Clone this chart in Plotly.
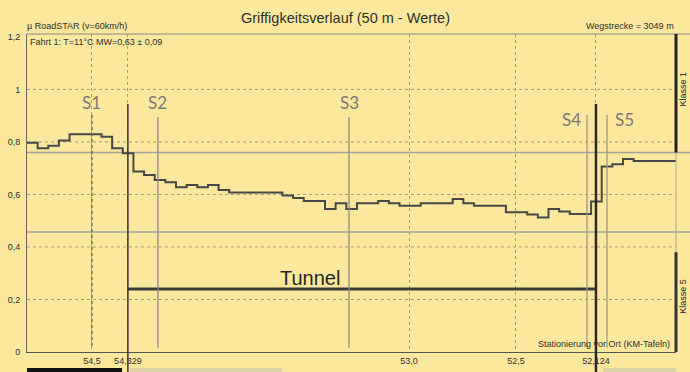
import plotly.graph_objects as go

# ---------------- data ----------------
segment_length_m = 50
route_length_m = 3049

mu_values = [
    0.797, 0.776, 0.785, 0.805, 0.829, 0.829, 0.829, 0.820, 0.776, 0.757,
    0.687, 0.674, 0.655, 0.646, 0.627, 0.636, 0.627, 0.636, 0.617, 0.607,
    0.607, 0.607, 0.607, 0.607, 0.596, 0.586, 0.575, 0.575, 0.545, 0.566,
    0.545, 0.566, 0.566, 0.575, 0.566, 0.557, 0.557, 0.566, 0.566, 0.566,
    0.583, 0.566, 0.557, 0.557, 0.557, 0.532, 0.532, 0.524, 0.512, 0.545,
    0.535, 0.526, 0.526, 0.573, 0.706, 0.715, 0.735, 0.727, 0.727, 0.727,
    0.727,
]

km_labels = ["54,5", "54,329", "53,0", "52,5", "52,124"]
km_dist_m = [305, 474, 1795, 2297, 2673]

section_labels = ["S1", "S2", "S3", "S4", "S5"]
section_dist_m = [305, 615, 1513, 2631, 2725]

tunnel_start_m = 474
tunnel_end_m = 2673
tunnel_level = 0.24

y_tick_vals = [0, 0.2, 0.4, 0.6, 0.8, 1.0, 1.2]
y_tick_labels = ["0", "0,2", "0,4", "0,6", "0,8", "1", "1,2"]
grid_levels = [0.2, 0.4, 0.6, 0.8, 1.0]
class_limits = [0.76, 0.457]
class1_floor = 0.76
class5_top = 0.38

# ---------------- figure ----------------
BG = "#FCE89C"
xs = [i * segment_length_m for i in range(len(mu_values))] + [route_length_m]
ys = mu_values + [mu_values[-1]]

fig = go.Figure()
fig.add_trace(go.Scatter(
    x=xs, y=ys, mode="lines", line=dict(shape="hv", color="#474747", width=2),
    hoverinfo="skip", showlegend=False,
))

shapes = []
for g in grid_levels:
    shapes.append(dict(type="line", xref="paper", yref="y", x0=0, x1=1, y0=g, y1=g,
                       line=dict(color="#a39c7e", width=1, dash="dot"), layer="below"))
for c in class_limits:
    shapes.append(dict(type="line", xref="paper", yref="y", x0=0, x1=1.022, y0=c, y1=c,
                       line=dict(color="#a3a09a", width=1.5), layer="below"))
shapes.append(dict(type="line", xref="paper", yref="paper", x0=0, x1=1.022, y0=1, y1=1,
                   line=dict(color="#8a877c", width=1)))
shapes.append(dict(type="line", xref="paper", yref="paper", x0=1, x1=1, y0=0, y1=1,
                   line=dict(color="#b0ab98", width=1)))
shapes.append(dict(type="line", xref="paper", yref="y", x0=1, x1=1, y0=class1_floor, y1=1.211,
                   line=dict(color="#222222", width=3)))
shapes.append(dict(type="line", xref="paper", yref="y", x0=1, x1=1, y0=0, y1=class5_top,
                   line=dict(color="#333333", width=3)))
shapes.append(dict(type="line", xref="x", yref="y", x0=tunnel_start_m, x1=tunnel_end_m,
                   y0=tunnel_level, y1=tunnel_level, line=dict(color="#3a3a3a", width=3)))
shapes.append(dict(type="line", xref="paper", yref="paper",
                   x0=tunnel_start_m / route_length_m, x1=tunnel_start_m / route_length_m,
                   y0=0.78, y1=-0.065, line=dict(color="#333333", width=1.5)))
shapes.append(dict(type="line", xref="paper", yref="paper",
                   x0=tunnel_end_m / route_length_m, x1=tunnel_end_m / route_length_m,
                   y0=0.78, y1=-0.065, line=dict(color="#2a2a2a", width=2.5)))
for i, d in enumerate(section_dist_m):
    top = 0.745 if i in (0, 3, 4) else 0.739
    dash = "dot" if i == 0 else "solid"
    col = "#6f6c62" if i == 0 else ("#8d8a80" if i < 3 else "#9c998c")
    shapes.append(dict(type="line", xref="paper", yref="paper",
                       x0=d / route_length_m, x1=d / route_length_m, y0=top, y1=0.013,
                       line=dict(color=col, width=1.5 if i == 0 else 1.3, dash=dash)))
for x0, x1, col in [(0, 0.1464, "#111111"), (0.1587, 0.3929, "#ddd2a6"), (0.8875, 1.0, "#ddd2a6")]:
    shapes.append(dict(type="rect", xref="paper", yref="paper", x0=x0, x1=x1, y0=-0.0505, y1=-0.07,
                       line=dict(width=0), fillcolor=col))

annotations = []
TXT = "#2e2e2e"
annotations.append(dict(xref="paper", yref="paper", x=0.49, y=1.05, text="Griffigkeitsverlauf (50 m - Werte)",
                        showarrow=False, xanchor="center", yanchor="middle",
                        font=dict(family="Liberation Sans", size=14.5, color=TXT)))
annotations.append(dict(xref="paper", yref="paper", x=0, y=1.025, text="µ RoadSTAR (v=60km/h)",
                        showarrow=False, xanchor="left", yanchor="middle", xshift=-2,
                        font=dict(family="Liberation Sans", size=9, color=TXT)))
annotations.append(dict(xref="paper", yref="paper", x=1, y=1.025, text="Wegstrecke = 3049 m",
                        showarrow=False, xanchor="right", yanchor="middle",
                        font=dict(family="Liberation Sans", size=9, color=TXT)))
annotations.append(dict(xref="paper", yref="paper", x=0.002, y=0.975, text="Fahrt 1: T=11°C MW=0,63 ± 0,09",
                        showarrow=False, xanchor="left", yanchor="middle",
                        font=dict(family="Liberation Sans", size=9, color=TXT)))
annotations.append(dict(xref="paper", yref="paper", x=0.994, y=0.026, text="Stationierung vor Ort (KM-Tafeln)",
                        showarrow=False, xanchor="right", yanchor="middle",
                        font=dict(family="Liberation Sans", size=9, color=TXT)))
annotations.append(dict(xref="x", yref="y", x=1330, y=0.282, text="Tunnel", showarrow=False,
                        xanchor="center", yanchor="middle",
                        font=dict(family="Liberation Sans", size=20, color="#262626")))
for i, (lab, d) in enumerate(zip(section_labels, section_dist_m)):
    yv = 0.952 if i < 3 else 0.884
    xs_shift = 0 if i < 3 else (-16 if i == 3 else 17)
    annotations.append(dict(xref="x", yref="y", x=d, y=yv, text=lab, showarrow=False,
                            xanchor="center", yanchor="middle", xshift=xs_shift,
                            font=dict(family="Lato", size=17, color="#7a7770")))
annotations.append(dict(xref="paper", yref="y", x=1, y=1.0, text="Klasse 1", showarrow=False,
                        textangle=-90, xanchor="left", yanchor="middle", xshift=0,
                        font=dict(family="Liberation Sans", size=9, color="#222")))
annotations.append(dict(xref="paper", yref="y", x=1, y=0.21, text="Klasse 5", showarrow=False,
                        textangle=-90, xanchor="left", yanchor="middle", xshift=0,
                        font=dict(family="Liberation Sans", size=9, color="#222")))

fig.update_layout(
    width=690, height=372,
    margin=dict(l=27, r=14, t=34, b=20, pad=0, autoexpand=False),
    paper_bgcolor=BG, plot_bgcolor=BG,
    shapes=shapes, annotations=annotations,
    showlegend=False,
    xaxis=dict(range=[0, route_length_m], tickvals=km_dist_m, ticktext=km_labels,
               showgrid=True, gridcolor="#a39c7e", griddash="dot", gridwidth=1,
               ticks="", showline=True, linecolor="#555", linewidth=1, zeroline=False,
               automargin=False,
               tickfont=dict(family="Liberation Sans", size=9, color=TXT), fixedrange=True),
    yaxis=dict(range=[0, 1.211], tickvals=y_tick_vals, ticktext=y_tick_labels,
               showgrid=False, zeroline=False, ticks="", showline=True, linecolor="#6a675c",
               linewidth=1, ticklabelstandoff=4, automargin=False,
               tickfont=dict(family="Liberation Sans", size=9, color=TXT), fixedrange=True),
)

fig.write_html(
    "out.html",
    config={"displayModeBar": False},
    post_script="document.body.style.margin='0';document.body.style.background='" + BG + "';",
)
